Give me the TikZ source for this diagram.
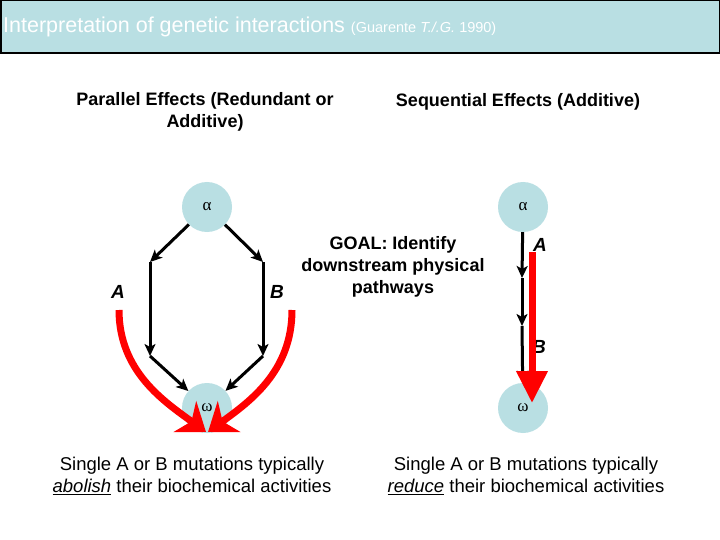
\documentclass[tikz,border=0pt]{standalone}
\usepackage{fontspec}
\setmainfont{Liberation Sans}
\newfontfamily\grk{Liberation Serif}
\usetikzlibrary{arrows.meta}
\definecolor{lb}{HTML}{B9DFE3}
\definecolor{rd}{HTML}{FF0000}
\begin{document}
\begin{tikzpicture}[x=1pt,y=-1pt,
 circ/.style={circle,fill=lb,minimum size=50pt,inner sep=0pt,font=\grk\fontsize{17}{17}\selectfont},
 blk/.style={line width=3pt,-{Stealth[length=12pt,width=11pt,inset=3pt]}},
 redarr/.style={draw=rd,line width=7pt,-{Stealth[length=26pt,width=38pt,inset=8pt]}},
 lbl/.style={font=\fontsize{19}{19}\selectfont\bfseries\itshape},
 headtxt/.style={font=\fontsize{18}{22}\selectfont\bfseries,align=center},
 bodytxt/.style={font=\fontsize{18.5}{22}\selectfont,align=center}]
\useasboundingbox (0,0) rectangle (720,540);
\fill[white] (0,0) rectangle (720,540);
% title bar
\draw[fill=lb,line width=1.5pt] (0.75,0.75) rectangle (719.25,53);
\node[anchor=west,text=white,inner sep=0pt] (title) at (3,27)
 {\fontsize{21.5}{21.5}\selectfont Interpretation of genetic interactions
  \fontsize{14.5}{14.5}\selectfont(Guarente \textit{T./.G.} 1990)};
% headings
\node[headtxt] (hpar) at (205,112) {Parallel Effects (Redundant or\\Additive)};
\node[headtxt] (hseq) at (518,102) {Sequential Effects (Additive)};
\node[headtxt] (goal) at (393,267) {GOAL: Identify\\downstream physical\\pathways};
% left diagram
\node[circ] (la) at (207,207) {α};
\node[circ] (lw) at (207,408) {ω};
\coordinate (p1) at (150,262);
\coordinate (p2) at (150,356);
\coordinate (q1) at (263,262);
\coordinate (q2) at (263,356);
\draw[blk] (la) -- (p1);
\draw[blk] (p1) -- (p2);
\draw[blk] (p2) -- (lw);
\draw[blk] (la) -- (q1);
\draw[blk] (q1) -- (q2);
\draw[blk] (q2) -- (lw);
\node[lbl] (lA) at (118,292) {A};
\node[lbl] (lB) at (277,292) {B};
\coordinate (rs1) at (119,310);
\coordinate (re1) at (206,432);
\coordinate (rs2) at (292,310);
\coordinate (re2) at (208,432);
\draw[redarr] (rs1) .. controls (119,372) and (165,402) .. (re1);
\draw[redarr] (rs2) .. controls (292,372) and (249,402) .. (re2);
% right diagram
\node[circ] (ra) at (523,207) {α};
\node[circ] (rw) at (523,408) {ω};
\coordinate (s1) at (522,278);
\coordinate (s2) at (522,326);
\draw[blk] (ra) -- (s1);
\draw[blk] (s1) -- (s2);
\draw[blk] (s2) -- (rw);
\node[lbl] (rA) at (540,245) {A};
\node[lbl] (rB) at (539,347) {B};
\coordinate (t1) at (532,252);
\coordinate (t2) at (532,403);
\draw[redarr,-{Triangle[length=32pt,width=30pt]}] (t1) -- (t2);
% bottom texts
\node[bodytxt] (bl) at (192,476) {Single A or B mutations typically\\\underline{\textit{abolish}} their biochemical activities};
\node[bodytxt] (br) at (526,476) {Single A or B mutations typically\\\underline{\textit{reduce}} their biochemical activities};
\end{tikzpicture}
\end{document}
